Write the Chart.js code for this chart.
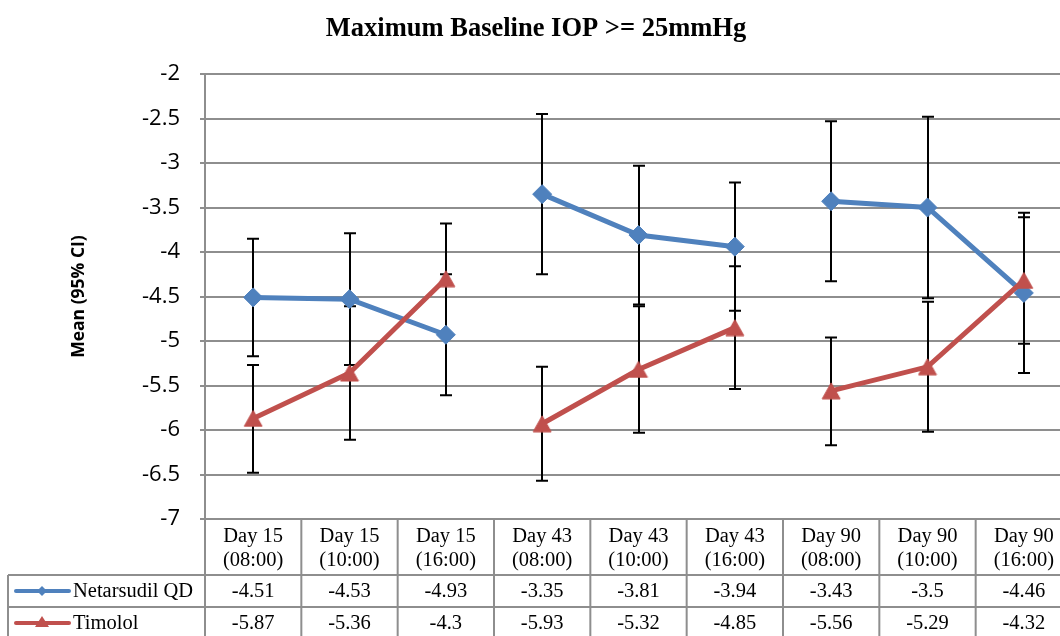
<!DOCTYPE html>
<html>
<head>
<meta charset="utf-8">
<script src="https://cdn.jsdelivr.net/npm/chart.js@4.4.0/dist/chart.umd.min.js"></script>
<style>
  html, body { margin: 0; padding: 0; background: #ffffff; overflow: hidden; }
  #wrap { position: absolute; left: 0; top: 0; width: 1080px; height: 660px; }
</style>
</head>
<body>
<div id="wrap"><canvas id="chart" width="1080" height="660"></canvas></div>
<script>
// Visit / time-point categories (two text lines each)
const categories = [
  ["Day 15", "(08:00)"], ["Day 15", "(10:00)"], ["Day 15", "(16:00)"],
  ["Day 43", "(08:00)"], ["Day 43", "(10:00)"], ["Day 43", "(16:00)"],
  ["Day 90", "(08:00)"], ["Day 90", "(10:00)"], ["Day 90", "(16:00)"]
];

// Mean change in IOP
const netarsudilMean = [-4.51, -4.53, -4.93, -3.35, -3.81, -3.94, -3.43, -3.5, -4.46];
const timololMean    = [-5.87, -5.36, -4.3, -5.93, -5.32, -4.85, -5.56, -5.29, -4.32];

// 95% confidence limits
const netarsudilLower = [-5.17, -5.27, -5.61, -4.25, -4.59, -4.66, -4.33, -4.52, -5.36];
const netarsudilUpper = [-3.85, -3.79, -4.25, -2.45, -3.03, -3.22, -2.53, -2.48, -3.56];
const timololLower    = [-6.48, -6.11, -4.92, -6.57, -6.03, -5.54, -6.17, -6.02, -5.03];
const timololUpper    = [-5.27, -4.61, -3.68, -5.29, -4.61, -4.16, -4.96, -4.56, -3.61];

// Value axis
const yMin = -7;
const yMax = -2;
const yStep = 0.5;

const seriesNames = ["Netarsudil QD", "Timolol"];
const titleText = "Maximum Baseline IOP >= 25mmHg";
const yTitleText = "Mean (95% CI)";

const BLUE = "#4F81BD";
const RED = "#C0504D";
const GRID = "#8e8e8e";
const SERIF = "'Liberation Serif', 'Times New Roman', serif";
const SANS = "'Open Sans', 'Noto Sans', sans-serif";

// Triangle marker whose bounding box is centred on the data point
function triangleMarker(color, w, h) {
  const c = document.createElement("canvas");
  c.width = w; c.height = h;
  const g = c.getContext("2d");
  g.fillStyle = color;
  g.strokeStyle = color;
  g.lineWidth = 1;
  g.lineJoin = "round";
  g.beginPath();
  g.moveTo(w / 2, 1);
  g.lineTo(w - 1, h - 1);
  g.lineTo(1, h - 1);
  g.closePath();
  g.fill();
  g.stroke();
  return c;
}

// Lines only join time points within the same visit day
const sameDaySegment = {
  borderColor: (c) => categories[c.p0DataIndex][0] === categories[c.p1DataIndex][0] ? undefined : "rgba(0,0,0,0)"
};

// Confidence-interval whiskers, drawn beneath the series lines
const errorBarPlugin = {
  id: "errorBars",
  beforeDatasetsDraw(chart) {
    const ctx = chart.ctx;
    const x = chart.scales.x;
    const y = chart.scales.y;
    const sets = [[netarsudilLower, netarsudilUpper], [timololLower, timololUpper]];
    ctx.save();
    ctx.strokeStyle = "#000000";
    ctx.lineWidth = 2;
    const cap = 6;
    sets.forEach(([lo, hi]) => {
      categories.forEach((c, i) => {
        const px = Math.round(x.getPixelForValue(i));
        const yl = y.getPixelForValue(lo[i]);
        const yh = y.getPixelForValue(hi[i]);
        ctx.beginPath();
        ctx.moveTo(px, yl); ctx.lineTo(px, yh);
        ctx.moveTo(px - cap, yl); ctx.lineTo(px + cap, yl);
        ctx.moveTo(px - cap, yh); ctx.lineTo(px + cap, yh);
        ctx.stroke();
      });
    });
    ctx.restore();
  }
};

// Data table under the plot: category header row plus one row per series
const dataTablePlugin = {
  id: "dataTable",
  afterDraw(chart) {
    const ctx = chart.ctx;
    const x = chart.scales.x;
    const area = chart.chartArea;
    const n = categories.length;
    const band = (area.right - area.left) / n;
    const top = area.bottom;
    const headerBottom = top + 56;
    const row1Bottom = headerBottom + 32;
    const row2Bottom = row1Bottom + 32;
    const legendLeft = 8;

    ctx.save();
    ctx.strokeStyle = GRID;
    ctx.lineWidth = 2;
    ctx.beginPath();
    // vertical separators
    for (let i = 0; i <= n; i++) {
      const bx = area.left + i * band;
      ctx.moveTo(bx, top); ctx.lineTo(bx, row2Bottom + 20);
    }
    ctx.moveTo(legendLeft, headerBottom); ctx.lineTo(legendLeft, row2Bottom + 20);
    // horizontal separators
    ctx.moveTo(legendLeft, headerBottom); ctx.lineTo(area.right, headerBottom);
    ctx.moveTo(legendLeft, row1Bottom); ctx.lineTo(area.right, row1Bottom);
    ctx.moveTo(legendLeft, row2Bottom); ctx.lineTo(area.right, row2Bottom);
    ctx.stroke();

    ctx.fillStyle = "#000000";
    ctx.font = "20.5px " + SERIF;
    ctx.textAlign = "center";
    ctx.textBaseline = "middle";
    categories.forEach((lines, i) => {
      const cx = x.getPixelForValue(i);
      ctx.fillText(lines[0], cx, top + 18);
      ctx.fillText(lines[1], cx, top + 42);
      ctx.fillText(String(netarsudilMean[i]), cx, headerBottom + 17);
      ctx.fillText(String(timololMean[i]), cx, row1Bottom + 17);
    });

    // legend keys
    const keys = [
      { color: BLUE, y: headerBottom + 16, shape: "diamond" },
      { color: RED, y: row1Bottom + 16, shape: "triangle" }
    ];
    keys.forEach((k, idx) => {
      ctx.strokeStyle = k.color;
      ctx.fillStyle = k.color;
      ctx.lineWidth = 4;
      ctx.lineCap = "round";
      ctx.beginPath();
      ctx.moveTo(16, k.y); ctx.lineTo(69, k.y);
      ctx.stroke();
      ctx.beginPath();
      if (k.shape === "diamond") {
        ctx.moveTo(42, k.y - 5); ctx.lineTo(47, k.y); ctx.lineTo(42, k.y + 5); ctx.lineTo(37, k.y);
      } else {
        ctx.moveTo(42, k.y - 7); ctx.lineTo(49, k.y + 4); ctx.lineTo(35, k.y + 4);
      }
      ctx.closePath();
      ctx.fill();
      ctx.fillStyle = "#000000";
      ctx.textAlign = "left";
      ctx.fillText(seriesNames[idx], 73, k.y + 1);
    });
    ctx.restore();
  }
};

new Chart(document.getElementById("chart"), {
  type: "line",
  data: {
    labels: categories,
    datasets: [
      {
        label: seriesNames[0],
        data: netarsudilMean,
        borderColor: BLUE,
        backgroundColor: BLUE,
        borderWidth: 5,
        pointStyle: "rectRot",
        pointRadius: 9.5,
        pointBorderWidth: 1,
        pointHoverRadius: 9.5,
        tension: 0,
        segment: sameDaySegment,
        order: 1
      },
      {
        label: seriesNames[1],
        data: timololMean,
        borderColor: RED,
        backgroundColor: RED,
        borderWidth: 5,
        pointStyle: triangleMarker(RED, 20, 18),
        pointRadius: 10,
        pointHoverRadius: 10,
        tension: 0,
        segment: sameDaySegment,
        order: 0
      }
    ]
  },
  options: {
    responsive: false,
    animation: false,
    devicePixelRatio: 1,
    layout: { autoPadding: false, padding: { left: 0, right: 8, top: 0, bottom: 141 } },
    plugins: {
      legend: { display: false },
      tooltip: { enabled: false },
      title: {
        display: true,
        text: titleText,
        color: "#000000",
        font: { family: SERIF, size: 26.5, weight: "bold", lineHeight: 1.2 },
        padding: { top: 13, bottom: 29.2 }
      }
    },
    scales: {
      x: {
        type: "category",
        offset: true,
        display: false
      },
      y: {
        min: yMin,
        max: yMax,
        ticks: {
          stepSize: yStep,
          color: "#000000",
          padding: 20,
          font: { family: SANS, size: 22 },
          callback: (v) => String(Number(v.toFixed(1)))
        },
        grid: {
          color: GRID,
          lineWidth: 2,
          drawTicks: true,
          tickLength: 5
        },
        border: { color: GRID, width: 2 },
        title: {
          display: true,
          text: yTitleText,
          color: "#000000",
          font: { family: SANS, size: 17.5, weight: "bold", lineHeight: 1.2 },
          padding: { top: 69, bottom: 0 }
        },
        afterFit(scale) { scale.width = 205; }
      }
    }
  },
  plugins: [errorBarPlugin, dataTablePlugin]
});
</script>
</body>
</html>
